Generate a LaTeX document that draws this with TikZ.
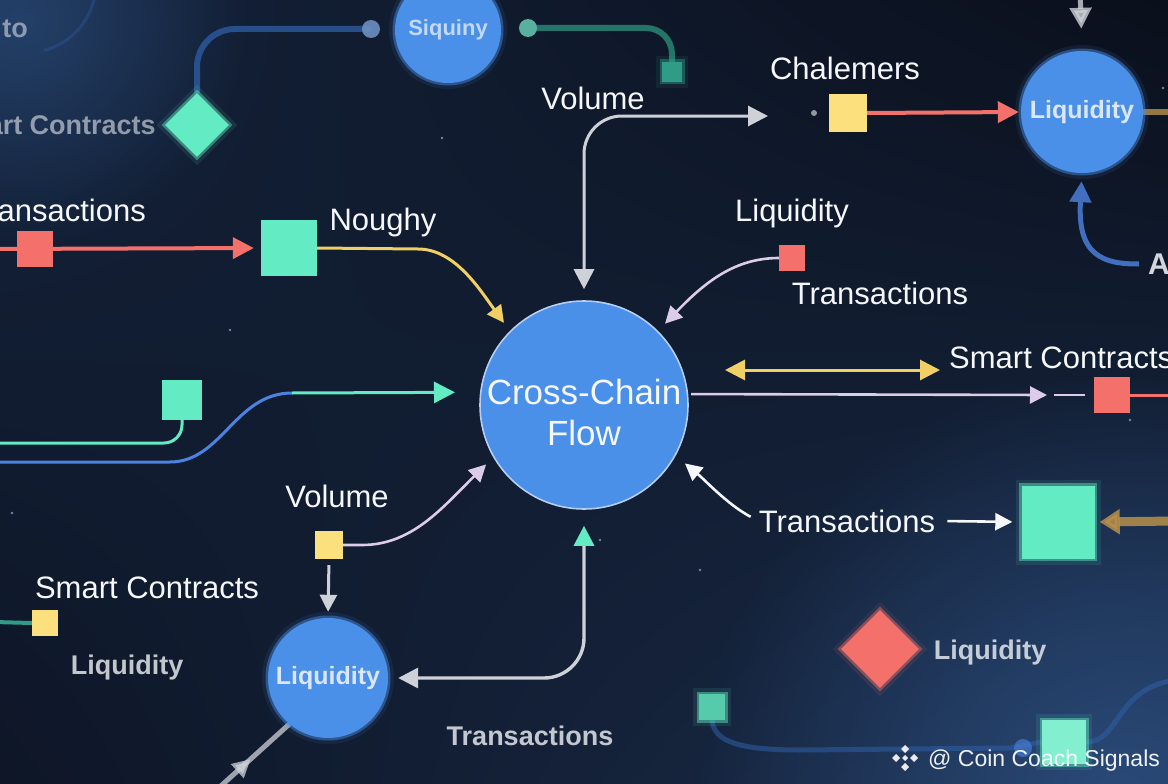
\documentclass[tikz,border=0pt]{standalone}
\usepackage{fontspec}
\setmainfont{Liberation Sans}
\usetikzlibrary{arrows.meta,shapes.geometric,fadings,shadings,decorations.markings}
\tikzfading[name=myfade, inner color=transparent!0, outer color=transparent!100]
\definecolor{bgUL}{HTML}{14223A}
\definecolor{bgUR}{HTML}{0A0F1B}
\definecolor{bgLL}{HTML}{0E1627}
\definecolor{bgLR}{HTML}{1A2D4B}
\definecolor{glowLR}{HTML}{2A4A78}
\definecolor{glowUL}{HTML}{2B4E7E}
\definecolor{mainblue}{HTML}{4A8FE8}
\definecolor{ringc}{HTML}{B4CDF0}
\definecolor{txtw}{HTML}{F5F7FB}
\definecolor{tealc}{HTML}{63EBC3}
\definecolor{redc}{HTML}{F4706A}
\definecolor{yelc}{HTML}{FDE07E}
\definecolor{yelline}{HTML}{F0CF64}
\definecolor{lavc}{HTML}{DCCCEA}
\definecolor{grayc}{HTML}{CFD1D8}
\definecolor{bluel}{HTML}{4C82E0}
\definecolor{goldc}{HTML}{B8904A}
\definecolor{fadeblue}{HTML}{2F5FA6}
\definecolor{fadeteal}{HTML}{2E9C86}
\definecolor{starc}{HTML}{6F86B0}
\pgfdeclarelayer{bgl}
\pgfdeclarelayer{lines}
\pgfsetlayers{bgl,lines,main}
\tikzset{
  lbl/.style={text=txtw, inner sep=0pt, anchor=base, font=\fontsize{31}{36}\selectfont},
  blbl/.style={text=txtw, text opacity=.78, inner sep=0pt, anchor=base, font=\bfseries\fontsize{27}{32}\selectfont},
  sqnode/.style={rectangle, inner sep=0pt, minimum size=#1},
  halo/.style={preaction={draw=#1, line width=12pt, draw opacity=.1},
               preaction={draw=#1, line width=5pt, draw opacity=.45}},
  bigtip/.style={arrows={-Triangle[length=21pt,width=21pt]}},
  midtip/.style={arrows={-Triangle[length=17pt,width=17pt]}},
  lavline/.style={draw=lavc, line width=2.6pt},
  grayline/.style={draw=grayc, line width=3pt},
  redline/.style={draw=redc, line width=4pt},
  yline/.style={draw=yelline, line width=3pt},
  tline/.style={draw=tealc, line width=3pt},
  bline/.style={draw=bluel, line width=3pt},
  wline/.style={draw=txtw, line width=2.6pt},
}
\begin{document}
\begin{tikzpicture}[x=1pt,y=-1pt]
\useasboundingbox (0,0) rectangle (1168,784);
\clip (0,0) rectangle (1168,784);
\begin{pgfonlayer}{bgl}
  \shade[upper left=bgUL, upper right=bgUR, lower left=bgLL, lower right=bgLR] (0,0) rectangle (1168,784);
  \fill[glowLR, path fading=myfade] (1120,800) circle (430);
  \fill[glowUL, path fading=myfade, opacity=.7] (20,20) circle (230);
  \foreach \sx/\sy in {442/138,12/513,1163/88,808/205,963/292,1130/420,700/570,230/330,600/540}
    \fill[starc] (\sx,\sy) circle (1.3);
\end{pgfonlayer}

% ---------- nodes ----------
\node[circle, minimum size=208pt, inner sep=0pt, fill=mainblue, draw=ringc, line width=1.6pt] (main) at (584,405) {};
\node[align=center, inner sep=0pt, text=txtw, font=\fontsize{35}{41}\selectfont] (mainTxt) at (584,412) {Cross-Chain\\Flow};

% faded top circle
\node[circle, minimum size=106pt, inner sep=0pt, fill=mainblue, halo=mainblue,
      text=txtw, text opacity=.7, font=\bfseries\fontsize{22}{26}\selectfont] (liq1) at (448,30) {Siquiny};
% top-right circle
\node[circle, minimum size=122pt, inner sep=0pt, fill=mainblue, halo=mainblue,
      text=txtw, text opacity=.85, font=\bfseries\fontsize{25}{30}\selectfont] (liq2) at (1082,112) {Liquidity};
% bottom-left circle
\node[circle, minimum size=120pt, inner sep=0pt, fill=mainblue, halo=mainblue,
      text=txtw, text opacity=.85, font=\bfseries\fontsize{25}{30}\selectfont] (liq3) at (328,678) {Liquidity};

% squares and diamonds
\node[sqnode=38pt, fill=yelc] (chsq) at (848,113) {};
\node[sqnode=26pt, fill=redc] (rsq1) at (792,258) {};
\node[sqnode=56pt, fill=tealc] (tsq1) at (289,248) {};
\node[sqnode=36pt, fill=redc] (rsq2) at (35,249) {};
\node[sqnode=40pt, fill=tealc] (tsq2) at (182,400) {};
\node[sqnode=36pt, fill=redc] (rsq3) at (1112,395) {};
\node[sqnode=73pt, fill=tealc, halo=tealc] (tsq3) at (1058,522) {};
\node[sqnode=28pt, fill=yelc] (ysq2) at (329,545) {};
\node[sqnode=26pt, fill=yelc] (ysq3) at (45,623) {};
\node[sqnode=26pt, fill=tealc!85!bgLL, halo=tealc] (tsq4) at (712,707) {};
\node[sqnode=44pt, fill=tealc!80!white, halo=tealc] (tsq5) at (1064,742) {};
\node[sqnode=20pt, fill=fadeteal, halo=fadeteal] (tsq6) at (672,72) {};
\node[diamond, aspect=1, minimum size=78pt, inner sep=0pt, fill=redc, halo=redc] (rdia) at (880,649) {};
\node[diamond, aspect=1, minimum size=64pt, inner sep=0pt, fill=tealc, halo=tealc] (tdia) at (197,125) {};

% labels
\node[lbl] (lVol1) at (593,110) {Volume};
\node[lbl] (lChal) at (845,80) {Chalemers};
\node[lbl] (lLiq1) at (792,221) {Liquidity};
\node[lbl] (lTr1) at (880,304) {Transactions};
\node[lbl] (lNou) at (383,230) {Noughy};
\node[lbl, anchor=base east] (lTr0) at (146,221) {Transactions};
\node[lbl, anchor=base west] (lSC1) at (949,368) {Smart Contracts};
\node[lbl] (lTr2) at (847,532) {Transactions};
\node[lbl] (lVol2) at (337,507) {Volume};
\node[lbl] (lSC2) at (147,598) {Smart Contracts};
\node[lbl, anchor=base west, font=\bfseries\fontsize{30}{36}\selectfont, text opacity=.85] (lA) at (1148,274) {A};
\node[blbl] (lLiqB) at (127,674) {Liquidity};
\node[blbl] (lTrB) at (530,745) {Transactions};
\node[blbl] (lLiqR) at (990,659) {Liquidity};
\node[blbl, anchor=base east, text opacity=.55] (lSCt) at (156,135) {Smart Contracts};
\node[blbl, anchor=base east, text opacity=.5] (lTo) at (28,38) {to};

% watermark
\node[anchor=base west, text=white, text opacity=.92, inner sep=0pt, font=\fontsize{23}{27}\selectfont] (wm) at (928,766) {@ Coin Coach Signals};
\foreach \dx/\dy in {0/-9,9/0,0/9,-9/0}
  \fill[white, opacity=.9] (905+\dx,758+\dy) +(0,-4) -- +(4,0) -- +(0,4) -- +(-4,0) -- cycle;
\fill[white, opacity=.9] (905,758) +(0,-3) -- +(3,0) -- +(0,3) -- +(-3,0) -- cycle;

% free ends
\coordinate (volEnd) at (768,116);
\coordinate (liq2top) at (1080,-12);
\coordinate (redL) at (-6,249);
\coordinate (tlL) at (-6,443);
\coordinate (blL) at (-6,462);
\coordinate (ya) at (725,370);
\coordinate (yb) at (940,370);
\coordinate (lvEnd) at (1047,395);
\coordinate (lvDash) at (1054,395);
\coordinate (redR) at (1176,395);
\coordinate (goldR) at (1176,521);
\coordinate (goldR2) at (1176,112);
\coordinate (cBL) at (212,794);
\coordinate (topdot) at (371,29);
\coordinate (tdot) at (528,28);
\coordinate (scL) at (-6,622);

% ---------- connectors ----------
\begin{pgfonlayer}{lines}
  % faint top flows
  \draw[fadeblue, line width=6pt, opacity=.75, rounded corners=38pt] (tdia.north) |- (topdot);
  \fill[fadeblue!70!white, opacity=.9] (topdot) circle (9);
  \draw[fadeteal, line width=6pt, opacity=.7, rounded corners=26pt] (tdot) -| (tsq6.north);
  \fill[fadeteal!80!white] (tdot) circle (9);
  \draw[fadeblue, line width=3pt, opacity=.35] (95,-5) arc (10:75:70);
  % faint bottom flows
  \draw[fadeblue, line width=5pt, opacity=.55] (tsq4.south) .. controls (714,742) and (740,750) .. (800,750) -- (1010,748) -- (tsq5.west);
  \draw[fadeblue, line width=5pt, opacity=.55] (tsq5.east) .. controls (1120,742) and (1115,688) .. (1176,680);
  \fill[bluel, opacity=.6] (1023,748) circle (9);

  % Volume (top)
  \draw[grayline, arrows={Triangle[length=20pt,width=20pt]-Triangle[length=20pt,width=20pt]},
        rounded corners=38pt, shorten <=11pt] (main.north) |- (volEnd);
  % Chalemers -> Liquidity
  \fill[grayc!70!bgUR] (814,113) circle (3);
  \draw[redline, bigtip, shorten >=2pt] (chsq.east) -- (liq2.west);
  \draw[grayline, line width=5pt, opacity=.8, bigtip, shorten >=22pt] (liq2top) -- (liq2.north);
  \draw[draw=bluel!85!black, line width=5pt, bigtip, shorten <=9pt, shorten >=8pt]
        (lA.west) .. controls (1092,265) and (1078,245) .. (liq2.south);
  \draw[draw=goldc, line width=6pt, opacity=.8] (liq2.east) -- (goldR2);
  % Liquidity / Transactions -> main
  \draw[lavline, midtip, shorten >=10pt] (rsq1.west) .. controls (735,258) and (705,282) .. (main.45);
  % red line to Noughy square
  \draw[redline, bigtip, shorten >=7pt] (redL) -- (tsq1.west);
  % Noughy -> main
  \draw[yline, midtip, shorten >=10pt] (tsq1.east) -- (418,249) .. controls (455,249) and (480,290) .. (main.135);
  % left flows
  \draw[tline, rounded corners=18pt] (tlL) -| (tsq2.south);
  \draw[bline] (blL) -- (170,462) .. controls (222,462) and (235,393) .. (292,393) coordinate (bt);
  \draw[tline, bigtip, shorten >=25pt] (bt) -- (main.173);
  % right flows
  \draw[yline, arrows={Triangle[length=20pt,width=20pt]-Triangle[length=20pt,width=20pt]}] (ya) -- (yb);
  \draw[lavline, midtip, shorten <=3pt] (main.6) -- (lvEnd);
  \draw[lavline, shorten >=9pt] (lvDash) -- (rsq3.west);
  \draw[redline, line width=3pt] (rsq3.east) -- (redR);
  \draw[wline, midtip, shorten <=12pt, shorten >=9pt] (lTr2.east) -- (tsq3.west);
  \draw[draw=goldc, line width=9pt, opacity=.85, arrows={-Triangle[length=20pt,width=24pt]}, shorten >=5pt] (goldR) -- (tsq3.east);
  \draw[wline, midtip, shorten <=9pt, shorten >=12pt] (lTr2.west) .. controls (728,505) and (705,480) .. (main.-29);
  % Volume (bottom) -> main
  \draw[lavline, midtip, shorten >=10pt] (ysq2.east) -- (362,545) .. controls (412,545) and (442,508) .. (main.210);
  \draw[grayline, midtip, shorten <=6pt, shorten >=6pt] (ysq2.south) -- (liq3.north);
  % main <-> bottom Liquidity
  \draw[grayline, line width=3.4pt, arrows={Triangle[length=20pt,width=20pt,color=tealc]-Triangle[length=20pt,width=20pt]},
        rounded corners=40pt, shorten <=16pt, shorten >=10pt] (main.south) |- (liq3.east);
  % lower-left line
  \draw[grayline, line width=5pt, opacity=.75,
        decoration={markings, mark=at position .5 with {\arrow{Triangle[length=18pt,width=18pt]}}},
        postaction={decorate}] (cBL) -- (liq3.-130);
  % Smart Contracts bottom-left
  \draw[draw=fadeteal, line width=4pt] (scL) -- (ysq3.west);
\end{pgfonlayer}
\end{tikzpicture}
\end{document}
